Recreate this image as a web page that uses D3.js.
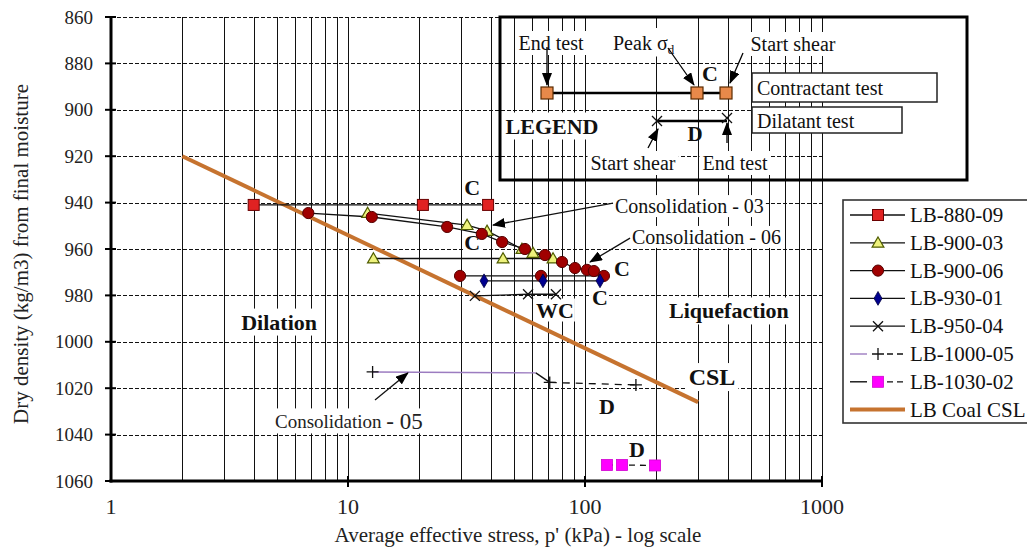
<!DOCTYPE html>
<html>
<head>
<meta charset="utf-8">
<script src="https://cdn.jsdelivr.net/npm/d3@7/dist/d3.min.js"></script>
<style>
  html, body { margin: 0; padding: 0; background: #fff; }
  svg { display: block; font-family: "Liberation Serif", "Times New Roman", serif; }
</style>
</head>
<body>
<svg id="chart" width="1027" height="549"></svg>
<script>
// ---- axis ticks ----
const stressTicks = [1, 10, 100, 1000];
const densityTicks = [860, 880, 900, 920, 940, 960, 980, 1000, 1020, 1040, 1060];

// ---- test series: average effective stress p' (kPa) and dry density (kg/m3) ----
const p880_09 = [4, 20.7, 39];
const rho880_09 = [941, 941, 941];

const p900_03 = [12.1, 31.8, 38.6, 54.2, 60.3, 73.3, 45.1, 12.8];
const rho900_03 = [944.5, 949.7, 952.2, 960, 961.7, 964.1, 964.1, 964.1];

const p900_06 = [6.8, 12.6, 26.2, 36.7, 44.7, 55.8, 67.8, 80, 90.7, 101.9, 109, 120.2, 65.2, 29.7];
const rho900_06 = [944.5, 946.2, 950.5, 953.5, 957, 960, 962.6, 965.6, 968.2, 969, 969.5, 971.6, 971.6, 971.6];

const p930_01 = [115.7, 66.5, 37.5];
const rho930_01 = [973.7, 973.7, 973.7];

const p950_04 = [75.4, 57.5, 34.3];
const rho950_04 = [979.5, 979.5, 980.2];

const p1000_05 = [12.7, 71, 164];
const rho1000_05 = [1013, 1017.5, 1018.6];
const pCons1000_05 = [12.7, 62, 71];
const rhoCons1000_05 = [1013, 1013.4, 1017.5];

const p1030_02 = [123.8, 143.3, 197.4];
const rho1030_02 = [1053.1, 1053.1, 1053.3];

// critical state line
const pCSL = [2, 300];
const rhoCSL = [920, 1026];

// ---- annotation labels (position in p', density) ----
const labelText = ["C", "C", "C", "C", "WC", "Dilation", "Liquefaction", "CSL", "D", "D"];
const labelP = [33.4, 33.4, 143.2, 115.7, 74.7, 5.12, 405, 343.5, 123.8, 165.7];
const labelRho = [933.3, 957.4, 968.2, 980.7, 986.3, 991.5, 986.7, 1015.2, 1027.7, 1046.6];

const noteText = ["Consolidation - 03", "Consolidation - 06"];
const noteP = [133.8, 157.9];
const noteRho = [941.5, 954.8];

// arrows: [p, density] of tail and head
const arrowFrom = [[131.3, 940.2], [154.9, 955.3], [13.0, 1025.1]];
const arrowTo = [[40.9, 949.7], [105, 965.6], [17.9, 1013.4]];

const legendNames = ["LB-880-09", "LB-900-03", "LB-900-06", "LB-930-01", "LB-950-04", "LB-1000-05", "LB-1030-02", "LB Coal CSL"];

// ---- layout ----
const svg = d3.select("#chart");
const x = d3.scaleLog().domain([1, 1000]).range([111, 822]);
const y = d3.scaleLinear().domain([860, 1060]).range([17, 481]);
const crisp = v => Math.round(v) + 0.5;

const defs = svg.append("defs");
defs.append("marker").attr("id", "ah")
  .attr("viewBox", "0 0 13 10").attr("refX", 12).attr("refY", 5)
  .attr("markerWidth", 13).attr("markerHeight", 10)
  .attr("markerUnits", "userSpaceOnUse").attr("orient", "auto")
  .append("path").attr("d", "M0,0 L13,5 L0,10 Z").attr("fill", "#000");

const COLORS = {
  red: "#e02222", redEdge: "#6a0000",
  tri: "#eef27c", triEdge: "#4f5c00",
  dot: "#a00000", dotEdge: "#550000",
  navy: "#00008f",
  magenta: "#ff00ff",
  csl: "#c6732f",
  purple: "#9c7cc0",
  legendSq: "#e8894a"
};

function marker(g, type, cx, cy) {
  if (type === "square") {
    g.append("rect").attr("x", cx - 5.5).attr("y", cy - 5.5).attr("width", 11).attr("height", 11)
      .attr("fill", COLORS.red).attr("stroke", COLORS.redEdge).attr("stroke-width", 1);
  } else if (type === "triangle") {
    g.append("path").attr("d", d3.symbol(d3.symbolTriangle, 60)())
      .attr("transform", `translate(${cx},${cy + 1})`)
      .attr("fill", COLORS.tri).attr("stroke", COLORS.triEdge).attr("stroke-width", 1.2);
  } else if (type === "circle") {
    g.append("circle").attr("cx", cx).attr("cy", cy).attr("r", 5.6)
      .attr("fill", COLORS.dot).attr("stroke", COLORS.dotEdge).attr("stroke-width", 1);
  } else if (type === "diamond") {
    g.append("path").attr("d", d3.symbol(d3.symbolDiamond, 55)())
      .attr("transform", `translate(${cx},${cy})`)
      .attr("fill", COLORS.navy).attr("stroke", "#000040").attr("stroke-width", 0.8);
  } else if (type === "x") {
    g.append("path").attr("d", `M${cx - 5},${cy - 5}L${cx + 5},${cy + 5}M${cx - 5},${cy + 5}L${cx + 5},${cy - 5}`)
      .attr("stroke", "#111").attr("stroke-width", 1.3).attr("fill", "none");
  } else if (type === "plus") {
    g.append("path").attr("d", `M${cx - 6},${cy}H${cx + 6}M${cx},${cy - 6}V${cy + 6}`)
      .attr("stroke", "#111").attr("stroke-width", 1.3).attr("fill", "none");
  } else if (type === "msquare") {
    g.append("rect").attr("x", cx - 5.5).attr("y", cy - 5.5).attr("width", 11).attr("height", 11)
      .attr("fill", COLORS.magenta).attr("stroke", "#d000d0").attr("stroke-width", 0.8);
  } else if (type === "osquare") {
    g.append("rect").attr("x", cx - 6).attr("y", cy - 6).attr("width", 12).attr("height", 12)
      .attr("fill", COLORS.legendSq).attr("stroke", "#5a2a00").attr("stroke-width", 1.2);
  }
}

// text with a white backing box that masks the grid behind it
function boxedText(g, str, tx, ty, opts = {}) {
  const t = g.append("text").attr("x", tx).attr("y", ty)
    .attr("font-size", opts.size || 20)
    .attr("font-weight", opts.bold ? "bold" : "normal")
    .attr("text-anchor", opts.anchor || "middle")
    .attr("dominant-baseline", opts.baseline || "central")
    .attr("fill", "#111")
    .text(str);
  const bb = t.node().getBBox();
  const pad = opts.pad === undefined ? 2 : opts.pad;
  g.insert("rect", () => t.node())
    .attr("x", bb.x - pad).attr("y", bb.y - pad + 2)
    .attr("width", bb.width + 2 * pad).attr("height", bb.height + 2 * pad - 4)
    .attr("fill", "#fff");
  return t;
}

// ---- grid ----
const grid = svg.append("g");
grid.selectAll("line.v").data(x.ticks().filter(d => d > 1)).join("line")
  .attr("x1", d => crisp(x(d))).attr("x2", d => crisp(x(d))).attr("y1", y(860)).attr("y2", y(1060))
  .attr("stroke", "#111").attr("stroke-width", 1);
grid.selectAll("line.h").data(densityTicks.filter(d => d < 1060)).join("line")
  .attr("x1", x(1)).attr("x2", x(1000)).attr("y1", d => crisp(y(d))).attr("y2", d => crisp(y(d)))
  .attr("stroke", "#111").attr("stroke-width", 1).attr("stroke-dasharray", "4,2");

// ---- axes ----
const axes = svg.append("g");
axes.append("line").attr("x1", x(1)).attr("x2", x(1)).attr("y1", y(860) - 1).attr("y2", y(1060) + 1.5)
  .attr("stroke", "#000").attr("stroke-width", 3);
axes.append("line").attr("x1", x(1) - 1.5).attr("x2", x(1000)).attr("y1", y(1060)).attr("y2", y(1060))
  .attr("stroke", "#000").attr("stroke-width", 3);
axes.selectAll("line.yt").data(densityTicks).join("line")
  .attr("x1", x(1) - 6).attr("x2", x(1) + 5).attr("y1", d => y(d)).attr("y2", d => y(d))
  .attr("stroke", "#000").attr("stroke-width", 2);
axes.selectAll("line.xt").data(stressTicks.filter(d => d > 1)).join("line")
  .attr("x1", d => x(d)).attr("x2", d => x(d)).attr("y1", y(1060) - 5).attr("y2", y(1060) + 6)
  .attr("stroke", "#000").attr("stroke-width", 2);
axes.selectAll("text.yl").data(densityTicks).join("text")
  .attr("x", 93).attr("y", d => y(d)).attr("text-anchor", "end").attr("dominant-baseline", "central")
  .attr("font-size", 19).attr("fill", "#222").text(d => d);
axes.selectAll("text.xl").data(stressTicks).join("text")
  .attr("x", d => x(d)).attr("y", 514).attr("text-anchor", "middle")
  .attr("font-size", 22).attr("fill", "#222").text(d => d);
axes.append("text").attr("x", 518).attr("y", 542).attr("text-anchor", "middle")
  .attr("font-size", 21).attr("fill", "#222").text("Average effective stress, p' (kPa) - log scale");
axes.append("text").attr("transform", "translate(21,254) rotate(-90)")
  .attr("text-anchor", "middle").attr("dominant-baseline", "central")
  .attr("font-size", 21).attr("fill", "#222").text("Dry density (kg/m3) from final moisture");

// ---- region / test labels ----
const labels = svg.append("g");
labelText.forEach((s, i) => {
  const big = s.length > 2;
  boxedText(labels, s, x(labelP[i]), y(labelRho[i]), { size: s === "CSL" ? 24 : 22, bold: true, pad: big ? 3 : 1 });
});
noteText.forEach((s, i) => {
  boxedText(labels, s, x(noteP[i]), y(noteRho[i]), { size: 20, anchor: "start", pad: 2 });
});
{
  const t = labels.append("text").attr("x", x(4.92)).attr("y", y(1034.1))
    .attr("dominant-baseline", "central").attr("fill", "#222");
  t.append("tspan").attr("font-size", 19).text("Consolidation ");
  t.append("tspan").attr("font-size", 23).text("- 05");
  const bb = t.node().getBBox();
  labels.insert("rect", () => t.node()).attr("x", bb.x - 3).attr("y", bb.y)
    .attr("width", bb.width + 6).attr("height", bb.height).attr("fill", "#fff");
}

// ---- critical state line ----
const line = d3.line().x(d => x(d[0])).y(d => y(d[1]));
svg.append("path").datum(d3.zip(pCSL, rhoCSL)).attr("d", line)
  .attr("fill", "none").attr("stroke", COLORS.csl).attr("stroke-width", 4);

// ---- test series ----
const series = [
  { p: p880_09, rho: rho880_09, marker: "square", stroke: "#111", dash: null },
  { p: p900_03, rho: rho900_03, marker: "triangle", stroke: "#111", dash: null },
  { p: p900_06, rho: rho900_06, marker: "circle", stroke: "#111", dash: null },
  { p: p930_01, rho: rho930_01, marker: "diamond", stroke: "#111", dash: null },
  { p: p950_04, rho: rho950_04, marker: "x", stroke: "#111", dash: null },
  { p: p1000_05, rho: rho1000_05, marker: "plus", stroke: "#111", dash: "7,6", fromIndex: 1 },
  { p: p1030_02, rho: rho1030_02, marker: "msquare", stroke: "#111", dash: "6,5" }
];
const dataG = svg.append("g");
// consolidation path of LB-1000-05
const cons = d3.zip(pCons1000_05, rhoCons1000_05);
dataG.append("path").datum(cons.slice(0, 2)).attr("d", line)
  .attr("fill", "none").attr("stroke", COLORS.purple).attr("stroke-width", 1.4);
dataG.append("path").datum(cons.slice(1)).attr("d", d3.line().curve(d3.curveBasis).x(d => x(d[0])).y(d => y(d[1])))
  .attr("fill", "none").attr("stroke", "#111").attr("stroke-width", 1.3);
series.forEach(s => {
  const pts = d3.zip(s.p, s.rho).slice(s.fromIndex || 0);
  dataG.append("path").datum(pts).attr("d", line)
    .attr("fill", "none").attr("stroke", s.stroke).attr("stroke-width", 1.3)
    .attr("stroke-dasharray", s.dash);
});
series.forEach(s => {
  s.p.forEach((v, i) => marker(dataG, s.marker, x(v), y(s.rho[i])));
});

// ---- annotation arrows ----
arrowFrom.forEach((f, i) => {
  const t = arrowTo[i];
  svg.append("line").attr("x1", x(f[0])).attr("y1", y(f[1])).attr("x2", x(t[0])).attr("y2", y(t[1]))
    .attr("stroke", "#111").attr("stroke-width", 1.3).attr("marker-end", "url(#ah)");
});

// ---- inset key explaining the symbols ----
const key = svg.append("g").attr("transform", "translate(500,17)");
boxedText(key, "End test", 51, 26, { size: 20, pad: 3 });
{
  const t = key.append("text").attr("x", 113).attr("y", 26).attr("dominant-baseline", "central")
    .attr("font-size", 20).attr("fill", "#111");
  t.append("tspan").text("Peak \u03C3");
  t.append("tspan").attr("font-size", 13).attr("dy", 6).text("d");
  const bb = t.node().getBBox();
  key.insert("rect", () => t.node()).attr("x", bb.x - 3).attr("y", bb.y - 4)
    .attr("width", bb.width + 6).attr("height", bb.height + 4).attr("fill", "#fff");
}
boxedText(key, "Start shear", 293, 27, { size: 20, pad: 3 });
key.append("line").attr("x1", 47).attr("x2", 226).attr("y1", 76).attr("y2", 76)
  .attr("stroke", "#000").attr("stroke-width", 2.5);
marker(key, "osquare", 47, 76);
marker(key, "osquare", 197, 76);
marker(key, "osquare", 226, 76);
key.append("line").attr("x1", 47).attr("y1", 30).attr("x2", 47).attr("y2", 68)
  .attr("stroke", "#000").attr("stroke-width", 1.3).attr("marker-end", "url(#ah)");
key.append("line").attr("x1", 168).attr("y1", 31).attr("x2", 194).attr("y2", 68)
  .attr("stroke", "#000").attr("stroke-width", 1.3).attr("marker-end", "url(#ah)");
key.append("line").attr("x1", 243).attr("y1", 36).attr("x2", 230).attr("y2", 66)
  .attr("stroke", "#000").attr("stroke-width", 1.3).attr("marker-end", "url(#ah)");
key.append("text").attr("x", 210).attr("y", 56).attr("text-anchor", "middle").attr("dominant-baseline", "central")
  .attr("font-size", 22).attr("font-weight", "bold").attr("fill", "#111").text("C");
boxedText(key, "LEGEND", 52, 109, { size: 22, bold: true, pad: 3 });
key.append("rect").attr("x", 252).attr("y", 56).attr("width", 185).attr("height", 29)
  .attr("fill", "#fff").attr("stroke", "#222").attr("stroke-width", 1.5);
key.append("text").attr("x", 257).attr("y", 71).attr("dominant-baseline", "central")
  .attr("font-size", 20).attr("fill", "#111").text("Contractant test");
key.append("rect").attr("x", 252).attr("y", 90).attr("width", 150).attr("height", 26)
  .attr("fill", "#fff").attr("stroke", "#222").attr("stroke-width", 1.5);
key.append("text").attr("x", 257).attr("y", 104).attr("dominant-baseline", "central")
  .attr("font-size", 20).attr("fill", "#111").text("Dilatant test");
// dilatant symbol
key.append("line").attr("x1", 157).attr("x2", 227).attr("y1", 104).attr("y2", 104)
  .attr("stroke", "#000").attr("stroke-width", 2.5);
key.append("text").attr("x", 195).attr("y", 117).attr("text-anchor", "middle").attr("dominant-baseline", "central")
  .attr("font-size", 21).attr("font-weight", "bold").attr("fill", "#111").text("D");
marker(key, "x", 157, 104);
marker(key, "x", 227, 101);
key.append("line").attr("x1", 148).attr("y1", 131).attr("x2", 158).attr("y2", 112)
  .attr("stroke", "#000").attr("stroke-width", 1.3).attr("marker-end", "url(#ah)");
key.append("line").attr("x1", 227).attr("y1", 126).attr("x2", 227).attr("y2", 106)
  .attr("stroke", "#000").attr("stroke-width", 1.3).attr("marker-end", "url(#ah)");
boxedText(key, "Start shear", 133, 146, { size: 20, pad: 3 });
boxedText(key, "End test", 235, 146, { size: 20, pad: 3 });
key.append("rect").attr("x", 0).attr("y", 0).attr("width", 467).attr("height", 163)
  .attr("fill", "none").attr("stroke", "#000").attr("stroke-width", 3);

// ---- series legend ----
const leg = svg.append("g");
leg.append("rect").attr("x", 843).attr("y", 200).attr("width", 200).attr("height", 223)
  .attr("fill", "#fff").attr("stroke", "#333").attr("stroke-width", 1.6);
const legMarkers = ["square", "triangle", "circle", "diamond", "x", "plus", "msquare", null];
legendNames.forEach((name, i) => {
  const ly = 215 + i * 27.8;
  if (i < 5) {
    leg.append("line").attr("x1", 850).attr("x2", 905).attr("y1", ly).attr("y2", ly)
      .attr("stroke", "#111").attr("stroke-width", 1.3);
  } else if (i < 7) {
    leg.append("line").attr("x1", 850).attr("x2", 867).attr("y1", ly).attr("y2", ly)
      .attr("stroke", i === 5 ? COLORS.purple : "#111").attr("stroke-width", 1.4);
    leg.append("line").attr("x1", 887).attr("x2", 905).attr("y1", ly).attr("y2", ly)
      .attr("stroke", "#111").attr("stroke-width", 1.3).attr("stroke-dasharray", "6,4");
  } else {
    leg.append("line").attr("x1", 850).attr("x2", 905).attr("y1", ly).attr("y2", ly)
      .attr("stroke", COLORS.csl).attr("stroke-width", 4);
  }
  if (legMarkers[i]) marker(leg, legMarkers[i], 878, ly);
  leg.append("text").attr("x", 910).attr("y", ly).attr("dominant-baseline", "central")
    .attr("font-size", 21).attr("fill", "#111").text(name);
});
</script>
</body>
</html>
